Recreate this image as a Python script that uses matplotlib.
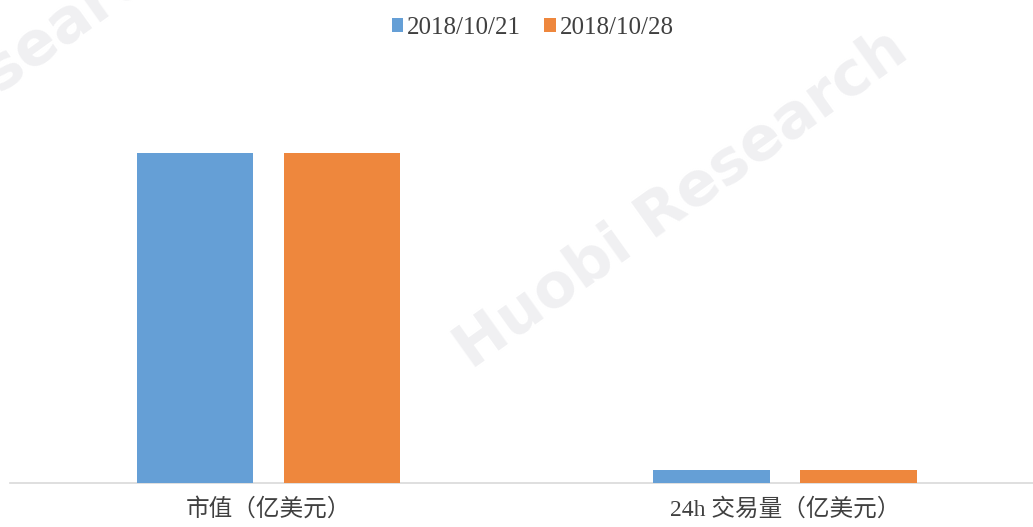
import numpy as np
import matplotlib
matplotlib.use('Agg')
import matplotlib.pyplot as plt

# Data
categories = ['市值（亿美元）', '24h 交易量（亿美元）']
series_names = ['2018/10/21', '2018/10/28']
values_1021 = [2070, 81]
values_1028 = [2070, 82]

colors = ['#659fd6', '#ee873d']
text_color = '#404040'
fonts = ['Liberation Serif', 'Noto Sans CJK SC', 'DejaVu Sans']

fig = plt.figure(figsize=(10.33, 5.27), dpi=100)
# axes spans full width, baseline at 44 px from bottom
ax = fig.add_axes([0, 44 / 527, 1, 430 / 527])

x = np.arange(len(categories))
width = 0.2265
offset = 0.1423
ax.bar(x - offset, values_1021, width, color=colors[0], label=series_names[0], zorder=3)
ax.bar(x + offset, values_1028, width, color=colors[1], label=series_names[1], zorder=3)

ax.set_xlim(-268.5 / 516.5, (1033 - 268.5) / 516.5)
ax.set_ylim(0, 2070 * 430 / 330)

for s in ['top', 'right', 'left']:
    ax.spines[s].set_visible(False)
ax.spines['bottom'].set_color('#d9d9d9')
ax.spines['bottom'].set_linewidth(1.2)
ax.spines['bottom'].set_bounds(-258.5 / 516.5, (1033 - 268.5) / 516.5)
ax.set_yticks([])
ax.set_xticks(x)
ax.set_xticklabels(categories, fontsize=17, color=text_color, family=fonts)
ax.tick_params(axis='x', length=0, pad=11)

leg = fig.legend(loc='center', bbox_to_anchor=(0.5155, 0.947), ncol=2, frameon=False,
                 prop={'family': fonts, 'size': 18}, labelcolor=text_color,
                 handlelength=0.45, handleheight=0.45, handletextpad=0.15, columnspacing=0.95)

# watermark
fig.text(0.66, 0.62, 'Huobi Research', rotation=35.5, ha='center', va='center',
         fontsize=44, fontweight='bold', color='#f0f0f2', family='DejaVu Sans', zorder=0)
fig.text(0.045, 0.93, 'Research', rotation=35.5, ha='center', va='center',
         fontsize=44, fontweight='bold', color='#f0f0f2', family='DejaVu Sans', zorder=0)

fig.savefig('out.png', dpi=100)
